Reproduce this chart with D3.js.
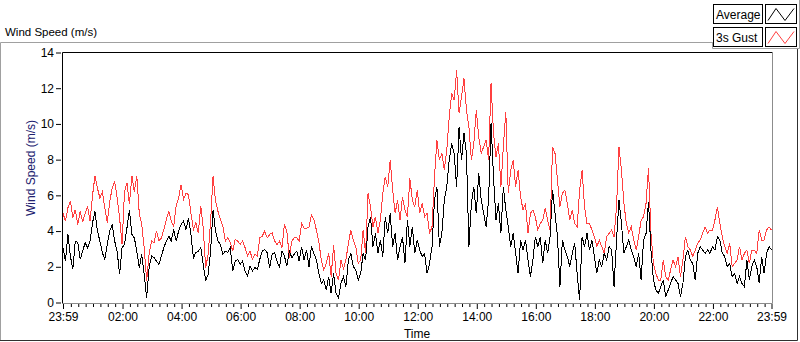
<!DOCTYPE html>
<html><head><meta charset="utf-8">
<script src="https://cdn.jsdelivr.net/npm/d3@7"></script>
<style>
html,body{margin:0;padding:0;background:#fff;}
svg{display:block;font-family:"Liberation Sans",Arial,sans-serif;}
</style></head><body>
<svg id="c" width="800" height="342"></svg>
<script>
// ---- data ----
const chartTitle = "Wind Speed (m/s)";
const yAxisTitle = "Wind Speed (m/s)";
const xAxisTitle = "Time";
const seriesNames = ["Average", "3s Gust"];
const seriesColors = ["#000000", "#ff4040"];
const sampleMinutes = 5;               // one sample every 5 minutes, starting 23:59
const xTickMinutes = [0, 121, 241, 361, 481, 601, 721, 841, 961, 1081, 1201, 1321, 1440];
const xTickLabels = ["23:59", "02:00", "04:00", "06:00", "08:00", "10:00", "12:00", "14:00", "16:00", "18:00", "20:00", "22:00", "23:59"];
const yTicks = [0, 2, 4, 6, 8, 10, 12, 14];

const average = [
3.07,2.32,3.81,2.6,1.86,3.44,3.35,2.42,2.88,3.35,
3.07,3.44,4.46,5.1,4.0,3.44,2.79,2.42,3.25,4.0,
4.37,3.44,2.88,1.58,3.07,3.25,4.18,5.2,3.81,3.62,
2.88,1.95,2.7,1.58,0.28,1.95,2.6,2.51,2.32,2.14,
2.6,3.07,3.44,3.72,3.44,4.09,3.44,4.0,4.37,4.55,
4.09,4.74,3.81,2.51,2.79,2.88,3.07,2.14,1.21,1.58,
2.88,5.2,4.0,3.44,3.25,2.7,2.88,2.79,3.07,1.77,
2.32,2.42,2.14,2.32,1.77,1.49,2.04,1.77,1.95,1.86,
2.42,2.88,2.97,2.79,1.95,2.7,2.79,2.32,1.95,2.88,
2.6,2.04,2.88,2.51,2.7,2.88,2.32,
3.13,2.38,2.94,2.01,3.13,2.75,2.38,1.63,1.07,1.26,
0.7,1.45,0.51,1.63,0.51,0.23,1.07,1.45,0.89,2.38,
2.75,2.01,1.82,1.26,1.63,2.75,2.38,4.24,4.8,3.13,
3.87,2.75,3.5,2.57,4.8,3.87,4.99,3.13,3.87,2.38,
3.13,3.68,2.19,4.62,3.13,4.24,2.75,3.5,2.94,2.57,
2.75,1.63,2.19,3.13,5.74,6.48,3.13,3.87,5.74,6.48,
7.98,8.91,8.35,6.48,9.84,7.98,9.47,8.35,3.13,5.55,
6.48,4.99,7.23,5.74,4.99,4.24,5.74,10.03,7.04,4.62,
5.55,3.87,6.48,5.18,4.24,3.13,3.87,2.75,1.63,3.5,
2.94,3.5,2.38,1.45,2.38,
3.68,3.13,3.68,2.19,3.5,2.75,3.68,6.3,4.99,3.68,
0.89,3.5,2.94,2.57,2.01,2.75,3.31,1.63,0.14,3.68,
3.13,3.87,2.94,3.5,2.57,1.63,2.38,2.01,2.75,2.38,
3.13,2.94,0.89,3.5,5.74,4.43,2.75,3.13,3.5,2.94,
2.57,2.01,2.75,1.26,3.5,3.87,5.64,2.94,1.26,0.7,
0.51,0.89,1.26,0.33,0.7,1.07,1.45,1.26,1.07,0.33,
1.07,2.57,2.94,2.38,2.19,1.26,2.75,3.13,2.94,2.75,
2.94,2.75,3.13,2.94,3.68,3.5,2.75,2.57,2.01,2.19,
1.45,1.63,1.07,1.45,1.07,0.89,2.38,1.26,2.01,2.38,
2.01,1.07,2.57,1.63,2.75,3.13,2.94
];

const gust = [
5.0,4.55,5.3,5.7,4.74,5.2,4.37,5.1,4.5,5.0,
5.4,4.55,6.0,7.1,6.4,5.85,6.2,5.3,4.46,5.67,
6.4,6.8,5.85,4.74,3.25,6.2,6.7,5.5,7.1,6.2,
7.1,5.0,4.37,3.07,1.2,2.7,3.44,3.35,4.0,3.44,
3.62,4.09,4.65,5.1,4.55,4.28,5.4,5.85,6.6,5.76,
6.13,6.04,5.0,4.09,4.46,3.9,5.4,4.18,1.95,2.7,
4.55,7.1,5.67,5.1,4.65,4.28,3.44,3.62,3.35,2.88,
3.53,3.44,3.25,3.44,3.07,2.6,2.88,2.42,2.7,2.6,
3.62,3.72,4.0,3.62,3.81,3.9,3.44,3.25,3.44,3.07,
4.37,4.0,2.51,3.44,3.62,3.62,3.44,
4.43,4.15,4.15,4.24,4.9,4.62,4.06,3.4,2.38,1.82,
2.19,2.75,1.45,3.22,1.63,1.26,2.38,1.9,2.38,3.31,
4.06,3.5,3.13,2.19,2.38,4.06,2.75,6.11,5.36,4.24,
4.8,3.87,4.62,6.11,7.04,6.48,7.98,6.3,4.99,5.74,
4.62,5.92,5.18,4.8,6.95,5.74,5.36,6.3,4.99,5.55,
4.8,4.99,3.87,4.24,7.0,9.1,7.98,8.35,7.42,8.54,
10.4,11.7,11.33,13.0,10.59,11.52,12.55,10.78,9.84,7.98,
8.91,10.78,9.28,8.35,8.72,9.1,7.98,12.27,9.47,8.16,
8.91,6.48,8.72,10.68,6.11,7.42,7.98,6.48,7.42,5.92,
5.18,5.55,3.87,4.99,5.18,
4.8,4.06,4.43,4.62,5.27,4.62,4.06,8.72,8.35,6.86,
5.36,6.11,6.3,5.55,4.62,5.18,4.43,4.24,6.3,7.42,
5.36,4.43,4.43,4.06,3.68,3.13,3.5,3.13,2.75,3.68,
3.87,4.06,3.68,5.36,8.72,7.42,5.55,4.43,3.9,4.24,
3.5,2.94,3.68,4.62,4.8,5.55,7.51,3.87,2.19,1.63,
1.26,1.26,2.38,1.45,1.26,1.82,2.38,2.01,2.57,1.45,
2.38,3.68,3.13,2.94,2.57,2.94,3.31,3.5,3.87,4.24,
3.87,4.06,4.06,4.62,5.36,4.43,3.68,3.13,2.75,3.31,
2.01,2.19,2.38,3.13,2.38,2.75,2.94,2.19,2.94,2.94,
2.75,4.06,3.5,3.5,4.06,4.24,4.06
];

// ---- drawing ----
const svg = d3.select("#c");
const W = 800, H = 342;
const plot = {left: 62.5, right: 772.5, top: 52.5, bottom: 303.5};
const totalMinutes = 1440;

const x = d3.scaleLinear().domain([0, totalMinutes]).range([63, 771.5]);
const y = d3.scaleLinear().domain([0, 14]).range([302.5, 52.5]);

svg.append("rect").attr("width", W).attr("height", H).attr("fill", "#ffffff");

// outer panel frame
const frame = svg.append("g").attr("fill", "none");
frame.append("path").attr("d", "M0.5,341 V42.5 H712").attr("stroke", "#a0a0a0");
frame.append("path").attr("d", "M712.5,42 V48.5 H799.5 V0").attr("stroke", "#a0a0a0");
frame.append("path").attr("d", "M797.5,49 V340.5 H0").attr("stroke", "#303030");

// title
svg.append("text").attr("x", 5).attr("y", 36).attr("font-size", 11.5).attr("fill", "#000")
  .text(chartTitle);

// plot area
svg.append("rect").attr("x", plot.left).attr("y", plot.top)
  .attr("width", plot.right - plot.left).attr("height", plot.bottom - plot.top).attr("fill", "#fff");

// series
const line = d3.line().x((d, i) => x(i * sampleMinutes)).y(d => y(d));
svg.append("clipPath").attr("id", "pc").append("rect")
  .attr("x", plot.left + 0.5).attr("y", plot.top + 0.5)
  .attr("width", plot.right - plot.left - 1).attr("height", plot.bottom - plot.top - 1);
const lines = svg.append("g").attr("clip-path", "url(#pc)");
lines.append("path").datum(gust).attr("d", line).attr("fill", "none")
  .attr("stroke", seriesColors[1]).attr("stroke-width", 1).attr("shape-rendering", "crispEdges");
lines.append("path").datum(average).attr("d", line).attr("fill", "none")
  .attr("stroke", seriesColors[0]).attr("stroke-width", 1).attr("shape-rendering", "crispEdges");

// plot border (sunken look)
svg.append("path").attr("d", `M${plot.left},${plot.bottom} V${plot.top} H${plot.right}`)
  .attr("stroke", "#000").attr("fill", "none");
svg.append("path").attr("d", `M${plot.right},${plot.top} V${plot.bottom} H${plot.left}`)
  .attr("stroke", "#8c8c8c").attr("fill", "none");

// Y axis
const yAxis = d3.axisLeft(y).tickValues(yTicks).tickSize(5).tickPadding(2).tickFormat(d3.format("d"));
const gy = svg.append("g").attr("transform", "translate(61,0)").call(yAxis);
gy.select(".domain").remove();
gy.selectAll("text").attr("font-size", 12).attr("font-family", '"Liberation Sans",Arial,sans-serif').attr("fill", "#000");
gy.selectAll("line").attr("stroke", "#000");

// X axis (major)
const labelOf = new Map(xTickMinutes.map((m, i) => [m, xTickLabels[i]]));
const xAxis = d3.axisBottom(x).tickValues(xTickMinutes).tickSize(5).tickPadding(3)
  .tickFormat(d => labelOf.get(d));
const gx = svg.append("g").attr("transform", "translate(0,304)").call(xAxis);
gx.select(".domain").remove();
gx.selectAll("text").attr("font-size", 12).attr("font-family", '"Liberation Sans",Arial,sans-serif').attr("fill", "#000");
gx.selectAll("line").attr("stroke", "#000");

// X axis (minor, every 15 min)
const minorTicks = d3.range(16, totalMinutes, 15).filter(m => !xTickMinutes.includes(m));
const gxm = svg.append("g").attr("transform", "translate(0,304)")
  .call(d3.axisBottom(x).tickValues(minorTicks).tickSize(3).tickFormat(""));
gxm.select(".domain").remove();
gxm.selectAll("line").attr("stroke", "#000");

// axis titles
svg.append("text").attr("x", 417).attr("y", 338).attr("text-anchor", "middle")
  .attr("font-size", 12).attr("fill", "#000").text(xAxisTitle);
svg.append("text").attr("transform", "translate(35,168) rotate(-90)").attr("text-anchor", "middle")
  .attr("font-size", 12).attr("fill", "#20206e").text(yAxisTitle);

// legend
const legend = svg.append("g");
seriesNames.forEach((name, i) => {
  const top = 4.5 + i * 23;
  legend.append("rect").attr("x", 713.5).attr("y", top).attr("width", 49).attr("height", 19)
    .attr("fill", "#fff").attr("stroke", "#000");
  legend.append("text").attr("x", 716).attr("y", top + 14).attr("font-size", 12).attr("fill", "#000").text(name);
  legend.append("rect").attr("x", 765.5).attr("y", top).attr("width", 31).attr("height", 19)
    .attr("fill", "#fff").attr("stroke", "#000");
  const icon = [[768, top + 16], [776, top + 4], [785, top + 16], [794, top + 4]];
  legend.append("path").attr("d", d3.line()(icon)).attr("fill", "none")
    .attr("stroke", seriesColors[i]).attr("stroke-width", 1);
});
</script>
</body></html>
